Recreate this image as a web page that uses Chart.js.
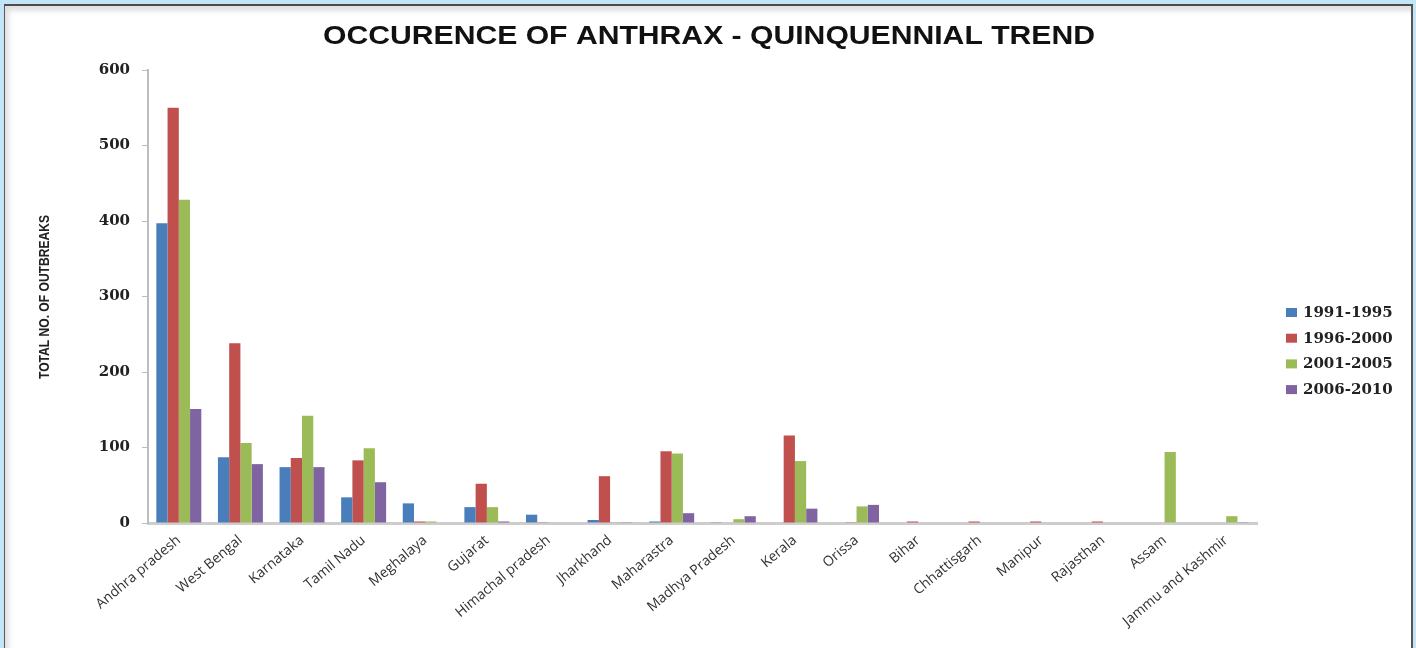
<!DOCTYPE html>
<html>
<head>
<meta charset="utf-8">
<script src="https://cdn.jsdelivr.net/npm/chart.js@4.4.1/dist/chart.umd.min.js"></script>
<style>
  body { margin: 0; background: #c4e4f7; }
  #wrap { position: relative; width: 1416px; height: 648px; overflow: hidden; }
  #frame {
    position: absolute; left: 4px; top: 4px; width: 1406px; height: 700px;
    background: #fff;
    border-top: 2px solid #4d4d4d; border-left: 1px solid #5a5a5a; border-right: 2px solid #555;
    box-shadow: inset 4px 5px 5px rgba(0,0,0,0.12);
  }
  #c { position: absolute; left: 0; top: 0; }
</style>
</head>
<body>
<div id="wrap">
  <div id="frame"></div>
  <canvas id="c" width="1416" height="648"></canvas>
</div>
<script>
// Occurrence of anthrax by state, four five-year periods
const states = ['Andhra pradesh', 'West Bengal', 'Karnataka', 'Tamil Nadu', 'Meghalaya', 'Gujarat',
  'Himachal pradesh', 'Jharkhand', 'Maharastra', 'Madhya Pradesh', 'Kerala', 'Orissa', 'Bihar',
  'Chhattisgarh', 'Manipur', 'Rajasthan', 'Assam', 'Jammu and Kashmir'];

const p1991 = [397, 87, 74, 34, 26, 21, 11, 4, 2, 1, 0, 0, 0, 0, 0, 0, 0, 0];
const p1996 = [550, 238, 86, 83, 2, 52, 1, 62, 95, 0, 116, 1, 2, 2, 2, 2, 0, 0];
const p2001 = [428, 106, 142, 99, 2, 21, 0, 1, 92, 5, 82, 22, 0, 0, 0, 0, 94, 9];
const p2006 = [151, 78, 74, 54, 0, 2, 0, 1, 13, 9, 19, 24, 0, 0, 0, 0, 0, 1];

const periods = ['1991-1995', '1996-2000', '2001-2005', '2006-2010'];
const colors = ['#4a7ebb', '#c0504d', '#9bbb59', '#8064a2'];
const yTicks = [0, 100, 200, 300, 400, 500, 600];

const TITLE = 'OCCURENCE OF ANTHRAX - QUINQUENNIAL TREND';
const Y_TITLE = 'TOTAL NO. OF OUTBREAKS';

// draw text squeezed/stretched to a given width
function fitText(ctx, text, x, y, width) {
  const w = ctx.measureText(text).width;
  ctx.save();
  ctx.translate(x, y);
  ctx.scale(width / w, 1);
  ctx.fillText(text, 0, 0);
  ctx.restore();
}

// title, rotated axis title and legend drawn by hand
const extraText = {
  id: 'extraText',
  afterDraw(chart) {
    const ctx = chart.ctx;
    ctx.save();
    ctx.fillStyle = '#111';
    ctx.font = 'bold 25px "Liberation Sans", Arial, sans-serif';
    ctx.textAlign = 'center';
    ctx.textBaseline = 'middle';
    fitText(ctx, TITLE, 709, 37, 772);

    ctx.save();
    ctx.translate(45, 297);
    ctx.rotate(-Math.PI / 2);
    ctx.font = 'bold 14px "Liberation Sans", sans-serif';
    ctx.fillStyle = '#222';
    fitText(ctx, Y_TITLE, 0, 0, 164);
    ctx.restore();

    ctx.textAlign = 'left';
    ctx.font = 'bold 15px "DejaVu Serif", serif';
    chart.data.datasets.forEach((ds, i) => {
      const y = 312 + i * 25.7;
      ctx.fillStyle = ds.backgroundColor;
      ctx.fillRect(1286, y - 4, 11, 9);
      ctx.fillStyle = '#222';
      ctx.fillText(ds.label, 1303, y + 1);
    });
    ctx.restore();
  }
};

const series = [p1991, p1996, p2001, p2006];

new Chart(document.getElementById('c'), {
  type: 'bar',
  data: {
    labels: states,
    datasets: series.map((vals, i) => ({
      label: periods[i],
      data: vals,
      backgroundColor: colors[i],
      borderWidth: 0,
      barPercentage: 1.0,
      categoryPercentage: 0.73
    }))
  },
  options: {
    responsive: false,
    animation: false,
    layout: { padding: { top: 70, right: 159, bottom: 0, left: 0 } },
    plugins: {
      legend: { display: false },
      title: { display: false },
      tooltip: { enabled: false }
    },
    scales: {
      x: {
        grid: { display: false },
        border: { display: true, color: '#cdcdcd', width: 3 },
        ticks: {
          autoSkip: false,
          minRotation: 40,
          maxRotation: 40,
          padding: 1,
          color: '#333',
          font: { family: '"Open Sans", sans-serif', size: 14 }
        },
        afterFit(scale) { scale.height = 125; }
      },
      y: {
        min: 0,
        max: 600,
        afterBuildTicks(scale) { scale.ticks = yTicks.map(v => ({ value: v })); },
        grid: { drawOnChartArea: false, drawTicks: true, tickLength: 6, color: '#bdbdbd' },
        border: { display: true, color: '#bdbdbd', width: 2 },
        ticks: {
          padding: 12,
          color: '#222',
          font: { family: '"DejaVu Serif", serif', size: 15, weight: 'bold' }
        },
        afterFit(scale) { scale.width = 148; }
      }
    }
  },
  plugins: [extraText]
});
</script>
</body>
</html>
